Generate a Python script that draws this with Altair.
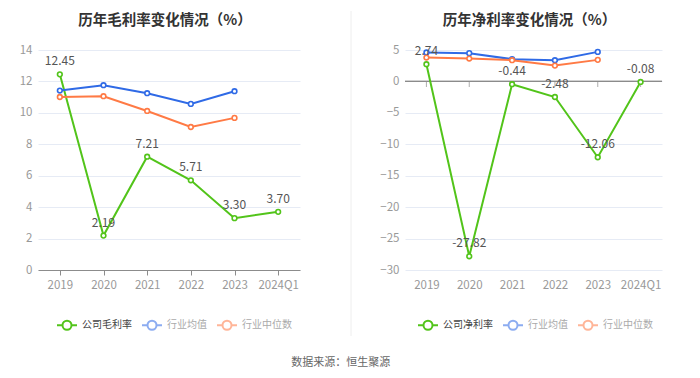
import altair as alt
import pandas as pd

years = ["2019", "2020", "2021", "2022", "2023", "2024Q1"]
series_gross = ["公司毛利率", "行业均值", "行业中位数"]
series_net = ["公司净利率", "行业均值", "行业中位数"]

gross_company = [12.45, 2.19, 7.21, 5.71, 3.30, 3.70]
gross_avg = [11.42, 11.76, 11.25, 10.57, 11.38]
gross_median = [11.01, 11.06, 10.12, 9.10, 9.68]

net_company = [2.74, -27.82, -0.44, -2.48, -12.06, -0.08]
net_avg = [4.60, 4.50, 3.54, 3.38, 4.70]
net_median = [3.80, 3.64, 3.38, 2.52, 3.43]

gross_ticks = [0, 2, 4, 6, 8, 10, 12, 14]
net_ticks = [5, 0, -5, -10, -15, -20, -25, -30]

GREEN = "#52c41a"
BLUE = "#2f6ae6"
ORANGE = "#ff7a45"
FONT = "Noto Sans CJK SC"

SYMBOL = ("M-1,0L-0.45,0M0.45,0L1,0M-0.45,0A0.45,0.45,0,1,1,0.45,0"
          "A0.45,0.45,0,1,1,-0.45,0")


def build_df(names, comp, avg, med):
    rows = []
    for y, v in zip(years, comp):
        rows.append({"year": y, "series": names[0], "value": v, "label": f"{v:.2f}"})
    for y, v in zip(years, avg):
        rows.append({"year": y, "series": names[1], "value": v, "label": ""})
    for y, v in zip(years, med):
        rows.append({"year": y, "series": names[2], "value": v, "label": ""})
    return pd.DataFrame(rows)


def panel(title, names, comp, avg, med, domain, ticks, width, zero_line, legend_x):
    df = build_df(names, comp, avg, med)
    color = alt.Color(
        "series:N",
        scale=alt.Scale(domain=names, range=[GREEN, BLUE, ORANGE]),
        sort=names,
        legend=alt.Legend(
            title=None, orient="none", direction="horizontal",
            legendX=legend_x, legendY=264,
            symbolType=SYMBOL, symbolSize=400, symbolStrokeWidth=2,
            symbolFillColor="white",
            symbolOpacity=alt.ExprRef(f"datum.value === '{names[0]}' ? 1 : 0.55"),
            labelColor=alt.ExprRef(f"datum.value === '{names[0]}' ? '#444' : '#aaa'"),
            labelFontSize=10, labelFont=FONT, labelOffset=4, columnPadding=6,
        ),
    )
    if zero_line:
        xaxis = alt.Axis(title=None, labelAngle=0, domain=False, ticks=False,
                         labelColor="#999", labelFontSize=11.5, labelPadding=9,
                         labelFont=FONT)
    else:
        xaxis = alt.Axis(title=None, labelAngle=0, domain=True, domainColor="#8c8c8c",
                         ticks=True, tickColor="#8c8c8c", tickSize=5,
                         labelColor="#999", labelFontSize=11.5, labelPadding=4,
                         labelFont=FONT)
    yaxis = alt.Axis(title=None, values=ticks, grid=True, gridColor="#e6ebf5",
                     domain=False, ticks=False, labelColor="#999",
                     labelFontSize=11.5, labelPadding=6, labelFont=FONT)
    xscale = alt.Scale(type="point", padding=0.5, domain=years)
    yscale = alt.Scale(domain=domain, nice=False, zero=False)
    x = alt.X("year:N", sort=years, scale=xscale, axis=xaxis)
    y = alt.Y("value:Q", scale=yscale, axis=yaxis)
    base = alt.Chart(df)
    lines = base.mark_line(strokeWidth=2).encode(x=x, y=y, color=color)
    points = base.mark_point(shape="circle", size=22, strokeWidth=1.6, fill="white",
                             filled=False, opacity=1).encode(x=x, y=y, color=color)
    labels = base.transform_filter(alt.datum.series == names[0]).mark_text(
        dy=-13, fontSize=12, color="#555", font=FONT).encode(x=x, y=y, text="label:N")
    layers = [lines, points, labels]
    if zero_line:
        zdf = pd.DataFrame({"year": years, "z": [0] * len(years)})
        zbase = alt.Chart(zdf)
        zy = alt.Y("z:Q", scale=yscale, axis=yaxis)
        zx = alt.X("year:N", sort=years, scale=xscale, axis=xaxis)
        layers = [
            zbase.mark_rule(color="#8c8c8c", strokeWidth=1).encode(y=zy),
            zbase.mark_tick(orient="vertical", size=5, thickness=1,
                            color="#8c8c8c", yOffset=3).encode(x=zx, y=zy),
        ] + layers
    return alt.layer(*layers).properties(
        width=width, height=220,
        title=alt.TitleParams(title, fontSize=14.5, fontWeight="bold", color="#333",
                              font=FONT, anchor="middle", offset=16, dx=-4),
    )


left = panel("历年毛利率变化情况（%）", series_gross, gross_company, gross_avg, gross_median,
             [0, 14], gross_ticks, 262, False, 18)
right = panel("历年净利率变化情况（%）", series_net, net_company, net_avg, net_median,
              [-30, 5], net_ticks, 257, True, 12)

divider = alt.Chart(pd.DataFrame({"d": [0]})).mark_rule(color="#eeeeee", strokeWidth=1).encode(
    x=alt.value(46), y=alt.value(-39), y2=alt.value(286)
).properties(width=69, height=220)

chart = alt.hconcat(left, divider, right, spacing=5).resolve_scale(
    color="independent", x="independent", y="independent"
).resolve_legend(color="independent").properties(
    title=alt.TitleParams("数据来源：恒生聚源", orient="bottom", anchor="middle",
                          fontSize=11, fontWeight="normal", color="#666", font=FONT, offset=20),
    padding={"left": 11, "top": 2, "right": 5, "bottom": 0},
).configure_view(stroke=None)

chart.save("out.html", embed_options={"renderer": "svg", "actions": False})
